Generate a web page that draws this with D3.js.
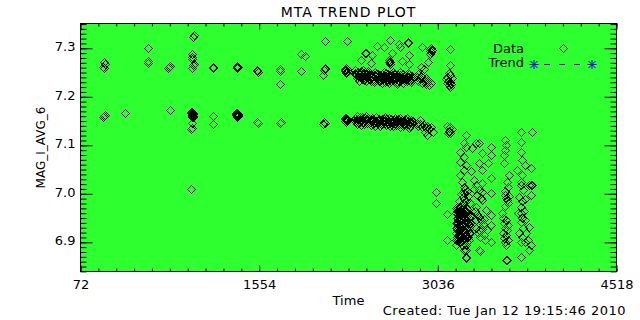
<!DOCTYPE html>
<html>
<head>
<meta charset="utf-8">
<script src="https://cdn.jsdelivr.net/npm/d3@7"></script>
<style>
  body { margin: 0; background: #fff; }
  text { font-family: "DejaVu Sans", sans-serif; fill: #000; }
</style>
</head>
<body>
<div id="chart"></div>
<script>
// MTA trend plot - MAG_I_AVG_6 vs time

const xRange = [72, 4518];
const yRange = [6.8398, 7.3511];
const xTicks = [72, 1554, 3036, 4518];
const yTicks = [6.9, 7.0, 7.1, 7.2, 7.3];
const legendLabels = ['Data', 'Trend'];

// [time, value] pairs, early sparse measurements
const earlyPts = [
  [260,7.262],[271,7.272],[279,7.268],[266,7.259],
  [271,7.160],[260,7.158],[279,7.162],
  [439,7.166],
  [630,7.300],[630,7.274],[630,7.270],
  [804,7.262],[808,7.261],[812,7.263],[800,7.260],
  [813,7.173],
  [1012,7.327],[1008,7.324],[993,7.288],[997,7.283],[993,7.278],[1012,7.268],[993,7.260],[1005,7.266],
  [990,7.168],[995,7.165],[1000,7.163],[1005,7.161],[998,7.160],[993,7.163],[1003,7.167],[996,7.158],[1008,7.164],
  [992,7.166],[1002,7.160],[997,7.167],[1006,7.166],[994,7.161],[1001,7.165],[999,7.169],[1004,7.159],
  [993,7.145],[993,7.136],[990,7.133],[990,7.009],
  [1169,7.260],[1173,7.262],[1169,7.160],[1173,7.144],
  [1372,7.262],[1368,7.264],[1376,7.261],[1370,7.259],
  [1365,7.167],[1370,7.164],[1375,7.162],[1368,7.160],[1378,7.165],[1372,7.158],[1362,7.162],
  [1364,7.165],[1374,7.166],[1369,7.161],[1377,7.160],[1366,7.158],[1371,7.167],[1373,7.163],
  [1538,7.253],[1542,7.251],[1534,7.255],
  [1538,7.149],[1534,7.147],[1542,7.145],
  [1723,7.254],[1727,7.258],[1723,7.226],
  [1731,7.147],[1727,7.145],[1735,7.149],
  [1897,7.288],[1932,7.284],[1897,7.254],
  [2098,7.316],
  [2098,7.257],[2102,7.259],[2094,7.255],[2082,7.245],
  [2090,7.147],[2094,7.149],[2098,7.145],[2086,7.143],
  [2284,7.316],
  [2270,7.256],[2275,7.252],[2265,7.254],[2280,7.258],[2272,7.250],
  [2268,7.253],[2278,7.255],[2262,7.257],[2274,7.259],[2282,7.253],
  [2270,7.156],[2275,7.152],[2265,7.154],[2280,7.150],[2272,7.148],
  [2266,7.151],[2278,7.154],[2262,7.150],[2274,7.157],[2282,7.152]
];

// dense period, upper group (~7.25) plus scatter above it
const upperRun = [
  [2395,7.276],[2444,7.291],[2492,7.286],[2430,7.290],[2533,7.305],[2588,7.303],[2643,7.318],
  [2655,7.291],[2712,7.309],[2726,7.303],[2787,7.313],[2792,7.311],[2795,7.286],[2643,7.271],
  [2735,7.273],[2480,7.269],[2906,7.303],[2953,7.272],[3141,7.298],[3133,7.266],
  [2800,7.268],[2898,7.262],[2920,7.257],[2635,7.272],[2640,7.268],[2630,7.275],
  [2968,7.298],[2975,7.295],[2980,7.292],[2972,7.288],[2978,7.300],[2985,7.296],
  [2350,7.250],[2360,7.244],[2370,7.252],[2380,7.246],[2390,7.240],[2400,7.249],[2410,7.243],
  [2420,7.250],[2430,7.238],[2440,7.246],[2450,7.241],[2460,7.249],[2470,7.236],[2480,7.244],
  [2490,7.240],[2500,7.247],[2510,7.235],[2520,7.243],[2530,7.239],[2540,7.246],[2550,7.233],
  [2560,7.241],[2570,7.248],[2580,7.237],[2590,7.244],[2600,7.231],[2610,7.240],[2620,7.246],
  [2630,7.236],[2640,7.243],[2650,7.232],[2660,7.240],[2670,7.247],[2680,7.235],[2690,7.242],
  [2700,7.230],[2710,7.238],[2720,7.245],[2730,7.234],[2740,7.241],[2750,7.229],[2760,7.237],
  [2770,7.244],[2780,7.232],[2790,7.240],[2800,7.248],[2810,7.236],[2820,7.243],
  [2365,7.238],[2395,7.254],[2425,7.235],[2455,7.253],[2485,7.232],[2515,7.251],[2545,7.238],
  [2575,7.229],[2605,7.250],[2635,7.228],[2665,7.252],[2695,7.226],[2725,7.251],[2755,7.240],
  [2785,7.249],[2815,7.230],
  [2345,7.247],[2375,7.242],[2405,7.237],[2435,7.252],[2465,7.244],[2495,7.236],[2525,7.248],
  [2555,7.244],[2585,7.240],[2615,7.236],[2645,7.248],[2675,7.240],[2705,7.244],[2735,7.238],
  [2765,7.233],[2795,7.236],[2825,7.238],[2353,7.256],[2383,7.233],[2413,7.255],[2443,7.233],
  [2473,7.250],[2503,7.230],[2533,7.245],[2563,7.234],[2593,7.252],[2623,7.232],[2653,7.244],
  [2683,7.248],[2713,7.232],[2743,7.248],[2773,7.236],[2803,7.242],
  [2358,7.248],[2388,7.246],[2418,7.244],[2448,7.246],[2478,7.240],[2508,7.244],[2538,7.241],
  [2568,7.240],[2598,7.243],[2628,7.242],[2658,7.236],[2688,7.238],[2718,7.240],[2748,7.236],
  [2778,7.240],[2808,7.232],
  [2860,7.240],[2875,7.232],[2890,7.238],[2905,7.228],[2920,7.235],[2935,7.226],[2950,7.232],
  [2965,7.224],[2980,7.229],[2870,7.246],[2900,7.243],[2940,7.239],
  [3100,7.236],[3110,7.228],[3120,7.232],[3130,7.224],[3140,7.230],[3150,7.238],[3135,7.221],
  [3115,7.240],[3145,7.226],[3125,7.250],[3140,7.244]
];

// dense period, lower group (~7.15)
const lowerRun = [
  [2340,7.152],[2355,7.148],[2370,7.155],[2385,7.146],[2400,7.153],[2415,7.149],[2430,7.157],
  [2445,7.146],[2460,7.152],[2475,7.148],[2490,7.156],[2505,7.145],[2520,7.151],[2535,7.147],
  [2550,7.155],[2565,7.144],[2580,7.150],[2595,7.146],[2610,7.154],[2625,7.143],[2640,7.149],
  [2655,7.145],[2670,7.152],[2685,7.141],[2700,7.148],[2715,7.144],[2730,7.151],[2745,7.140],
  [2760,7.147],[2775,7.142],[2790,7.150],[2805,7.139],[2820,7.146],
  [2362,7.160],[2400,7.142],[2440,7.160],[2480,7.141],[2520,7.159],[2560,7.140],[2600,7.158],
  [2640,7.139],[2680,7.157],[2720,7.137],[2760,7.155],[2800,7.136],
  [2348,7.157],[2378,7.150],[2408,7.158],[2438,7.152],[2468,7.145],[2498,7.152],[2528,7.145],
  [2558,7.150],[2588,7.155],[2618,7.148],[2648,7.154],[2678,7.146],[2708,7.154],[2738,7.146],
  [2768,7.152],[2798,7.144],[2828,7.150],[2363,7.144],[2393,7.159],[2423,7.143],[2453,7.157],
  [2483,7.152],[2513,7.140],[2543,7.152],[2573,7.155],[2603,7.142],[2633,7.156],[2663,7.140],
  [2693,7.152],[2723,7.156],[2753,7.143],[2783,7.156],[2813,7.152],
  [2358,7.152],[2388,7.152],[2418,7.146],[2448,7.150],[2478,7.154],[2508,7.149],[2538,7.150],
  [2568,7.148],[2598,7.150],[2628,7.151],[2658,7.148],[2688,7.147],[2718,7.148],[2748,7.150],
  [2778,7.147],[2808,7.148],
  [2860,7.146],[2875,7.140],[2890,7.144],[2905,7.137],[2920,7.142],[2935,7.135],[2950,7.140],
  [2965,7.133],[2980,7.138],[2890,7.152],[2930,7.128],[2999,7.128],[2948,7.121],
  [3110,7.140],[3125,7.135],[3140,7.138],[3130,7.130],[3150,7.133],[3120,7.126],[3141,7.125]
];

// late period, values drop and spread out
const lateRun = [
  [3017,7.004],[3017,6.980],[3114,6.958],[3114,6.905],
  [3266,7.121],[3252,7.104],[3266,7.097],[3224,7.087],[3252,7.076],[3224,7.066],[3266,7.059],
  [3252,7.049],[3224,7.039],[3238,7.025],[3252,7.015],[3252,7.001],[3241,6.994],[3244,6.982],
  [3230,7.000],[3250,6.990],[3270,6.985],[3290,6.995],[3215,6.985],[3260,7.010],[3280,7.005],[3300,6.980],
  [3190,6.960],[3200,6.945],[3195,6.930],[3205,6.915],[3190,6.905],[3210,6.900],[3200,6.970],
  [3215,6.955],[3220,6.938],[3210,6.925],[3225,6.910],[3220,6.965],[3235,6.948],[3230,6.930],
  [3240,6.918],[3235,6.902],[3245,6.960],[3250,6.940],[3255,6.925],[3250,6.908],[3260,6.950],
  [3265,6.932],[3270,6.915],[3275,6.900],[3280,6.945],[3285,6.925],[3290,6.910],[3295,6.935],
  [3300,6.955],[3305,6.920],[3196,6.950],[3212,6.935],[3228,6.920],[3244,6.905],[3260,6.965],
  [3276,6.940],[3292,6.950],[3185,6.940],[3188,6.920],[3240,6.895],[3270,6.895],
  [3186,6.970],[3192,6.950],[3198,6.925],[3203,6.905],[3208,6.962],[3214,6.945],[3218,6.915],
  [3222,6.900],[3226,6.950],[3232,6.960],[3238,6.935],[3242,6.925],[3248,6.970],[3252,6.952],
  [3258,6.915],[3262,6.940],[3268,6.960],[3272,6.925],[3278,6.955],[3282,6.910],[3288,6.940],
  [3296,6.920],[3302,6.940],[3184,6.930],[3190,6.895],[3206,6.940],[3218,6.972],[3232,6.912],
  [3246,6.935],[3256,6.898],[3264,6.905],[3274,6.968],[3286,6.960],[3298,6.905],[3194,6.965],
  [3210,6.910],[3226,6.935],[3236,6.968],[3254,6.960],[3268,6.945],
  [3195,6.940],[3202,6.958],[3208,6.930],[3216,6.925],[3224,6.945],[3230,6.940],[3200,6.915],
  [3214,6.965],[3222,6.925],[3234,6.955],[3206,6.950],[3196,6.910],
  [3266,6.884],[3266,6.867],[3252,6.884],[3266,6.870],
  [3349,7.018],[3404,7.004],[3473,7.001],[3404,6.987],[3349,6.973],[3432,6.967],[3473,6.956],
  [3376,6.953],[3473,6.936],[3376,6.925],[3418,6.915],[3473,6.901],[3376,6.884],[3384,6.883],
  [3376,7.104],[3473,7.097],[3404,7.084],[3473,7.080],[3376,7.063],[3449,7.063],[3404,7.049],
  [3307,7.046],[3473,7.032],[3335,7.028],[3404,7.022],[3349,7.104],[3320,7.095],
  [3340,7.010],[3360,6.998],[3380,7.008],[3395,6.992],[3345,6.965],[3365,6.958],[3390,6.945],
  [3410,6.938],[3350,6.930],[3370,6.920],[3400,6.928],[3420,6.948],[3385,6.910],[3430,6.905],
  [3355,6.945],[3440,6.925],
  [3597,7.111],[3604,7.101],[3597,7.090],[3583,7.080],[3583,7.063],[3625,7.039],[3611,7.025],
  [3618,7.015],[3597,6.998],[3611,6.987],[3570,6.960],[3583,6.939],[3611,6.925],[3583,6.908],
  [3604,6.894],[3604,6.864],[3611,6.864],
  [3590,7.005],[3600,6.992],[3615,6.980],[3595,6.975],[3580,6.950],[3600,6.945],[3620,6.935],
  [3590,6.930],[3605,6.915],[3575,6.920],[3615,6.905],[3590,6.900],[3625,6.995],
  [3722,7.128],[3819,7.128],[3722,7.107],[3722,7.087],[3736,7.070],[3763,7.059],[3805,7.053],
  [3694,7.049],[3736,7.039],[3722,7.025],[3791,7.018],[3819,7.018],
  [3722,7.018],[3805,7.018],[3708,6.994],[3805,6.998],[3722,6.973],[3722,6.960],[3722,6.942],
  [3791,6.932],[3708,6.919],[3722,6.901],[3805,6.894],[3791,6.884],[3722,6.870],
  [3740,7.008],[3760,6.990],[3730,6.985],[3750,6.965],[3735,6.950],[3760,6.945],[3745,6.930],
  [3770,6.920],[3730,6.910],[3755,6.900],[3780,6.905],[3700,6.960]
];

function createChart() {
    const container = d3.select('#chart');
    container.html('');

    const W = 640, H = 320;
    const margin = {top: 23.5, right: 23.5, bottom: 48.5, left: 80.5};
    const left = margin.left, right = W - margin.right;
    const top = margin.top, bottom = H - margin.bottom;

    const svg = container.append('svg')
        .attr('width', W)
        .attr('height', H);

    svg.append('rect').attr('width', W).attr('height', H).attr('fill', '#fff');

    const x = d3.scaleLinear().domain(xRange).range([left, right]);
    const y = d3.scaleLinear().domain(yRange).range([bottom, top]);

    // plot background
    svg.append('rect')
        .attr('x', left).attr('y', top)
        .attr('width', right - left).attr('height', bottom - top)
        .attr('fill', '#2eff2e');

    // data points as open diamonds (aliased, like the original device)
    const allPts = earlyPts.concat(upperRun, lowerRun, lateRun);
    const diamond = 'M0,-4L4,0L0,4L-4,0Z';
    svg.append('g')
        .attr('shape-rendering', 'crispEdges')
        .selectAll('path')
        .data(allPts)
        .enter()
        .append('path')
        .attr('d', diamond)
        .attr('transform', d => `translate(${Math.round(x(d[0])) + 0.5},${Math.round(y(d[1])) + 0.5})`)
        .attr('fill', 'none')
        .attr('stroke', '#000')
        .attr('stroke-width', 1);

    // minor tick values
    const xStep = (xTicks[1] - xTicks[0]) / 10;
    const xMinor = d3.range(0, 31).map(i => xTicks[0] + i * xStep);
    const yMinor = d3.range(684, 736).map(i => i / 100);

    const styleAxis = g => {
        g.select('.domain').remove();
        g.selectAll('line').attr('stroke', '#000');
        g.selectAll('text')
            .style('font-family', '"DejaVu Sans", sans-serif')
            .style('font-size', '13px')
            .attr('fill', '#000');
    };

    // bottom axis
    svg.append('g')
        .attr('transform', `translate(0,${bottom})`)
        .call(d3.axisBottom(x).tickValues(xMinor).tickSize(-3).tickFormat(''))
        .call(styleAxis);
    svg.append('g')
        .attr('transform', `translate(0,${bottom})`)
        .call(d3.axisBottom(x).tickValues(xTicks).tickSize(-6).tickPadding(8).tickFormat(d3.format('d')))
        .call(styleAxis);

    // top axis
    svg.append('g')
        .attr('transform', `translate(0,${top})`)
        .call(d3.axisTop(x).tickValues(xMinor).tickSize(-3).tickFormat(''))
        .call(styleAxis);
    svg.append('g')
        .attr('transform', `translate(0,${top})`)
        .call(d3.axisTop(x).tickValues(xTicks).tickSize(-6).tickFormat(''))
        .call(styleAxis);

    // left axis
    svg.append('g')
        .attr('transform', `translate(${left},0)`)
        .call(d3.axisLeft(y).tickValues(yMinor).tickSize(-6).tickFormat(''))
        .call(styleAxis);
    svg.append('g')
        .attr('transform', `translate(${left},0)`)
        .call(d3.axisLeft(y).tickValues(yTicks).tickSize(-12).tickPadding(5).tickFormat(d3.format('.1f')))
        .call(styleAxis)
        .selectAll('text').attr('dy', '0.2em');

    // right axis
    svg.append('g')
        .attr('transform', `translate(${right},0)`)
        .call(d3.axisRight(y).tickValues(yMinor).tickSize(-6).tickFormat(''))
        .call(styleAxis);
    svg.append('g')
        .attr('transform', `translate(${right},0)`)
        .call(d3.axisRight(y).tickValues(yTicks).tickSize(-12).tickFormat(''))
        .call(styleAxis);

    // frame
    svg.append('rect')
        .attr('x', left).attr('y', top)
        .attr('width', right - left).attr('height', bottom - top)
        .attr('fill', 'none')
        .attr('stroke', '#000');

    // title and labels
    svg.append('text')
        .attr('x', (left + right) / 2)
        .attr('y', 17)
        .attr('text-anchor', 'middle')
        .style('font-size', '14px')
        .style('letter-spacing', '1px')
        .text('MTA TREND PLOT');

    svg.append('text')
        .attr('x', (left + right) / 2)
        .attr('y', 305)
        .attr('text-anchor', 'middle')
        .style('font-size', '13px')
        .text('Time');

    svg.append('text')
        .attr('transform', `translate(45,${(top + bottom) / 2}) rotate(-90)`)
        .attr('text-anchor', 'middle')
        .style('font-size', '12px')
        .text('MAG_I_AVG_6');

    svg.append('text')
        .attr('x', 626)
        .attr('y', 315)
        .attr('text-anchor', 'end')
        .style('font-size', '13px')
        .style('letter-spacing', '0.5px')
        .text('Created: Tue Jan 12 19:15:46 2010');

    // legend
    const legend = svg.append('g');
    legend.append('text')
        .attr('x', 524).attr('y', 53)
        .attr('text-anchor', 'end')
        .style('font-size', '13px')
        .text(legendLabels[0]);
    legend.append('path')
        .attr('d', diamond)
        .attr('transform', 'translate(563.5,48.5)')
        .attr('shape-rendering', 'crispEdges')
        .attr('fill', 'none')
        .attr('stroke', '#000');
    legend.append('text')
        .attr('x', 524).attr('y', 67)
        .attr('text-anchor', 'end')
        .style('font-size', '13px')
        .text(legendLabels[1]);
    legend.append('line')
        .attr('x1', 538).attr('x2', 588)
        .attr('y1', 64.5).attr('y2', 64.5)
        .attr('stroke', '#0000ff')
        .attr('stroke-dasharray', '6,9')
        .attr('stroke-dashoffset', -6);
    const star = 'M-4.5,0H4.5M0,-4.5V4.5M-3.5,-3.5L3.5,3.5M-3.5,3.5L3.5,-3.5';
    [534, 592].forEach(cx => {
        legend.append('path')
            .attr('d', star)
            .attr('transform', `translate(${cx},64.5)`)
            .attr('fill', 'none')
            .attr('stroke', '#0000ff');
    });
}

createChart();
</script>
</body>
</html>
